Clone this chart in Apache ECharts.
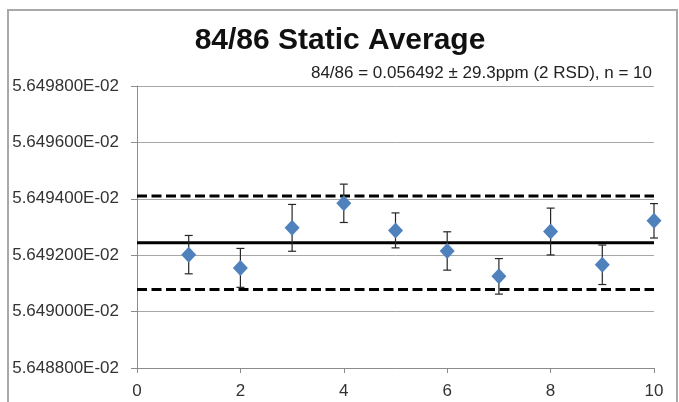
<!DOCTYPE html>
<html>
<head>
<meta charset="utf-8">
<script src="https://cdn.jsdelivr.net/npm/echarts@6/dist/echarts.min.js"></script>
<style>
  html, body { margin: 0; padding: 0; background: #fff; }
  #chart { width: 679px; height: 402px; }
</style>
</head>
<body>
<div id="chart"></div>
<script>
// ---- data ----
var titleText = '84/86 Static Average';
var subtitleText = '84/86 = 0.056492 \u00b1 29.3ppm (2 RSD), n = 10';
var runs = [1, 2, 3, 4, 5, 6, 7, 8, 9, 10];
var ratios = [0.05649202, 0.05649155, 0.05649297, 0.05649384, 0.05649288,
              0.05649215, 0.05649125, 0.05649284, 0.05649166, 0.05649322];
var errors = [6.8e-7, 6.9e-7, 8.3e-7, 6.8e-7, 6.2e-7, 6.8e-7, 6.3e-7, 8.3e-7, 7.0e-7, 6.1e-7];
var meanValue = 0.05649244;
var upperLimit = 0.05649410;
var lowerLimit = 0.05649078;
var xRange = [0, 10];
var yTicks = [0.056488, 0.056490, 0.056492, 0.056494, 0.056496, 0.056498];

var FONT = '"Liberation Sans", Arial, sans-serif';
var chart = echarts.init(document.getElementById('chart'));

var points = runs.map(function (r, i) { return [r, ratios[i]]; });
var bars = runs.map(function (r, i) { return [r, ratios[i] - errors[i], ratios[i] + errors[i]]; });
function hline(v) { return [[xRange[0], v], [xRange[1], v]]; }

var option = {
  animation: false,
  backgroundColor: '#ffffff',
  graphic: [
    { type: 'rect', z: -10, silent: true,
      shape: { x: 8, y: 10, width: 669, height: 430 },
      style: { fill: 'none', stroke: '#a9a9a9', lineWidth: 2 } },
    { type: 'text', x: 340, y: 41,
      style: { text: titleText, font: 'bold 30px ' + FONT, fill: '#111111',
               textAlign: 'center', textVerticalAlign: 'middle' } },
    { type: 'text', x: 652, y: 73,
      style: { text: subtitleText, font: '17px ' + FONT, fill: '#222222',
               textAlign: 'right', textVerticalAlign: 'middle' } }
  ],
  grid: { left: 137, right: 25, top: 86, bottom: 34, containLabel: false },
  xAxis: {
    type: 'value', min: xRange[0], max: xRange[1], interval: 2,
    axisLine: { show: true, lineStyle: { color: '#8c8c8c', width: 1 } },
    axisTick: { show: true, inside: false, length: 5, lineStyle: { color: '#8c8c8c' } },
    splitLine: { show: false },
    axisLabel: { margin: 15, fontSize: 17, fontFamily: FONT, color: '#333333' }
  },
  yAxis: {
    type: 'value', min: yTicks[0], max: yTicks[yTicks.length - 1], interval: 0.000002,
    axisLine: { show: true, lineStyle: { color: '#8c8c8c', width: 1 } },
    axisTick: { show: true, inside: false, length: 6, lineStyle: { color: '#8c8c8c' } },
    splitLine: { show: true, lineStyle: { color: '#a6a6a6', width: 1 } },
    axisLabel: {
      margin: 18, fontSize: 17, fontFamily: FONT, color: '#333333',
      formatter: function (v) { return (v * 100).toFixed(6) + 'E-02'; }
    }
  },
  series: [
    { type: 'line', data: hline(meanValue), symbol: 'none', z: 2,
      lineStyle: { color: '#000000', width: 3 } },
    { type: 'line', data: hline(upperLimit), symbol: 'none', z: 2,
      lineStyle: { color: '#000000', width: 3, type: [10, 4.5] } },
    { type: 'line', data: hline(lowerLimit), symbol: 'none', z: 2,
      lineStyle: { color: '#000000', width: 3, type: [10, 4.5] } },
    { type: 'custom', z: 3, data: bars,
      renderItem: function (params, api) {
        var lo = api.coord([api.value(0), api.value(1)]);
        var hi = api.coord([api.value(0), api.value(2)]);
        var cap = 4;
        var st = { stroke: '#262626', lineWidth: 1.2 };
        return { type: 'group', children: [
          { type: 'line', shape: { x1: lo[0], y1: lo[1], x2: hi[0], y2: hi[1] }, style: st },
          { type: 'line', shape: { x1: lo[0] - cap, y1: lo[1], x2: lo[0] + cap, y2: lo[1] }, style: st },
          { type: 'line', shape: { x1: hi[0] - cap, y1: hi[1], x2: hi[0] + cap, y2: hi[1] }, style: st }
        ]};
      }
    },
    { type: 'scatter', data: points, z: 4, symbol: 'diamond', symbolSize: [15, 16],
      itemStyle: { color: '#4f81bd', opacity: 1 } }
  ]
};
chart.setOption(option);
</script>
</body>
</html>
